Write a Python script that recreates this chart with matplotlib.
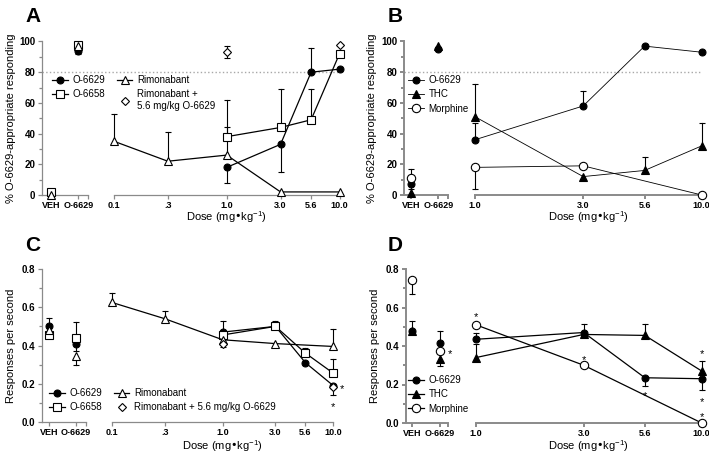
import numpy as np
import matplotlib.pyplot as plt
from matplotlib.ticker import NullLocator

plt.rcParams['font.family'] = ['Liberation Sans', 'DejaVu Sans']
plt.rcParams['mathtext.default'] = 'regular'

ctrl_labels = ['VEH', 'O-6629']
xlabel = 'Dose (mg\u2022kg$^{-1}$)'

# ---------------- Panel A: % O-6629-appropriate responding ----------------
# error values = where the (one-sided) error bar cap sits, None = no bar
a_doses = [0.1, 0.3, 1.0, 3.0, 5.6, 10.0]
a_dose_labels = ['0.1', '.3', '1.0', '3.0', '5.6', '10.0']

a_o6629_ctrl = [1, 94]
a_o6629_ctrl_err = [None, 92]
a_o6629_x = [1.0, 3.0, 5.6, 10.0]
a_o6629 = [18, 33, 80, 82]
a_o6629_err = [8, 15, 96, None]

a_o6658_ctrl = [2, 98]
a_o6658_ctrl_err = [None, None]
a_o6658_x = [1.0, 3.0, 5.6, 10.0]
a_o6658 = [38, 44, 49, 92]
a_o6658_err = [62, 69, 69, None]

a_rim_ctrl = [0, 97]
a_rim_ctrl_err = [None, None]
a_rim_x = [0.1, 0.3, 1.0, 3.0, 10.0]
a_rim = [35, 22, 26, 2, 2]
a_rim_err = [53, 41, 44, None, None]

a_combo_x = [1.0, 10.0]
a_combo = [93, 98]
a_combo_err = [(89, 97), None]

# ---------------- Panel B ----------------
b_doses = [1.0, 3.0, 5.6, 10.0]
b_dose_labels = ['1.0', '3.0', '5.6', '10.0']

b_o6629_ctrl = [7, 95]
b_o6629_ctrl_err = [4, None]
b_o6629_x = [1.0, 3.0, 5.6, 10.0]
b_o6629 = [36, 58, 97, 93]
b_o6629_err = [47, 68, None, None]

b_thc_ctrl = [1, 97]
b_thc_ctrl_err = [None, None]
b_thc_x = [1.0, 3.0, 5.6, 10.0]
b_thc = [51, 12, 16, 32]
b_thc_err = [72, None, 25, 47]

b_mor_ctrl = [11, np.nan]
b_mor_ctrl_err = [17, None]
b_mor_x = [1.0, 3.0, 10.0]
b_mor = [18, 19, 0]
b_mor_err = [4, None, None]

# ---------------- Panel C: responses per second ----------------
c_o6629_ctrl = [0.50, 0.41]
c_o6629_ctrl_err = [None, 0.37]
c_o6629_x = [1.0, 3.0, 5.6, 10.0]
c_o6629 = [0.47, 0.50, 0.31, 0.19]
c_o6629_err = [None, None, None, 0.14]

c_o6658_ctrl = [0.455, 0.44]
c_o6658_ctrl_err = [0.545, 0.525]
c_o6658_x = [1.0, 3.0, 5.6, 10.0]
c_o6658 = [0.455, 0.50, 0.36, 0.255]
c_o6658_err = [0.53, 0.53, 0.385, 0.33]

c_rim_ctrl = [0.48, 0.345]
c_rim_ctrl_err = [None, 0.30]
c_rim_x = [0.1, 0.3, 1.0, 3.0, 10.0]
c_rim = [0.625, 0.54, 0.43, 0.41, 0.395]
c_rim_err = [0.675, 0.58, None, None, 0.485]

c_combo_x = [1.0, 10.0]
c_combo = [0.41, 0.185]
c_combo_err = [0.39, None]

c_side_star = (10.0, 0.185)
c_stars_x = [10.0]
c_stars_y = [0.09]

# ---------------- Panel D ----------------
d_o6629_ctrl = [0.48, 0.415]
d_o6629_ctrl_err = [0.53, 0.48]
d_o6629_x = [1.0, 3.0, 5.6, 10.0]
d_o6629 = [0.435, 0.47, 0.235, 0.23]
d_o6629_err = [0.465, 0.515, 0.19, 0.17]

d_thc_ctrl = [0.48, 0.335]
d_thc_ctrl_err = [None, 0.295]
d_thc_x = [1.0, 3.0, 5.6, 10.0]
d_thc = [0.34, 0.46, 0.455, 0.27]
d_thc_err = [0.41, 0.445, 0.515, 0.32]

d_mor_ctrl = [0.745, 0.375]
d_mor_ctrl_err = [0.67, None]
d_mor_x = [1.0, 3.0, 10.0]
d_mor = [0.51, 0.30, 0.0]
d_mor_err = [None, None, None]

d_side_star = (1, 0.375)
d_stars_x = [1.0, 3.0, 5.6, 10.0, 10.0, 10.0]
d_stars_y = [0.565, 0.34, 0.155, 0.37, 0.125, 0.045]

W, H = 709, 453
GREY = '#8a8a8a'
fig = plt.figure(figsize=(W / 100, H / 100), dpi=100)

FILLED_CIRCLE = dict(marker='o', ms=5, mfc='k')
OPEN_CIRCLE = dict(marker='o', ms=6, mfc='w')
OPEN_SQUARE = dict(marker='s', ms=6, mfc='w')
OPEN_TRI = dict(marker='^', ms=6, mfc='w')
FILLED_TRI = dict(marker='^', ms=5.5, mfc='k')
OPEN_DIAMOND = dict(marker='D', ms=4.5, mfc='w')


def px_axes(x0, x1, y0, y1):
    return fig.add_axes([x0 / W, 1 - y1 / H, (x1 - x0) / W, (y1 - y0) / H])


def make_panel(lx, ctrl_px, rx, py, ylim, yticks, ylabels, yminor, doses, dose_labels,
               ylabel, ylabel_px, xlabel_px, lw_spine):
    ax_l = px_axes(lx[0], lx[1], py[0], py[1])
    ax_r = px_axes(rx[0], rx[1], py[0], py[1])
    unit = ctrl_px[1] - ctrl_px[0]
    ax_l.set_xlim((lx[0] - ctrl_px[0]) / unit, 1 + (lx[1] - ctrl_px[1]) / unit)
    for ax in (ax_l, ax_r):
        ax.set_ylim(*ylim)
        ax.patch.set_alpha(0)
        for s in ('top', 'right'):
            ax.spines[s].set_visible(False)
        for s in ('left', 'bottom'):
            ax.spines[s].set_color(GREY)
            ax.spines[s].set_linewidth(lw_spine)
        ax.tick_params(which='both', color=GREY, width=lw_spine, pad=2)
        ax.tick_params(axis='x', labelsize=6.5, pad=1.5)
        ax.tick_params(axis='y', labelsize=7)
        ax.tick_params(which='major', length=3)
        ax.tick_params(which='minor', length=2)
    ax_r.spines['left'].set_visible(False)
    ax_r.tick_params(axis='y', left=False, labelleft=False)
    ax_l.set_xticks([0, 1], ctrl_labels, fontweight='bold')
    ax_l.set_xticks([ax_l.get_xlim()[1]], minor=True)
    ax_l.tick_params(axis='x', which='minor', length=3)
    ax_l.set_yticks(yticks, ylabels, fontweight='bold')
    ax_l.set_yticks(yminor, minor=True)
    ax_r.set_xscale('log')
    ax_r.set_xlim(doses[0], doses[-1])
    ax_r.set_xticks(doses, dose_labels, fontweight='bold')
    ax_r.xaxis.set_minor_locator(NullLocator())
    ax_l.set_ylabel(ylabel, fontsize=8)
    ax_l.yaxis.set_label_coords((ylabel_px - lx[0]) / (lx[1] - lx[0]), 0.5)
    ax_r.set_xlabel(xlabel, fontsize=8, va='baseline')
    ax_r.xaxis.set_label_coords(0.5, (py[1] - xlabel_px) / (py[1] - py[0]))
    return ax_l, ax_r


def bars(ax, xs, ys, ends):
    for xv, yv, e in zip(xs, ys, ends):
        if e is None:
            continue
        for end in np.atleast_1d(e):
            ax.plot([xv, xv], [yv, end], color='k', lw=0.8, zorder=2, clip_on=False)
            ax.plot(xv, end, marker='_', ms=5, mew=0.8, color='k', zorder=2, clip_on=False)


def draw_series(ax_l, ax_r, ctrl, ctrl_err, x, vals, err, style, label, line=True, lw=0.9):
    kw = dict(color='k', mec='k', mew=0.8, clip_on=False, zorder=3, **style)
    ax_l.plot([0, 1], ctrl, ls='none', **kw)
    h, = ax_r.plot(x, vals, ls='-' if line else 'none', lw=lw, label=label, **kw)
    bars(ax_l, [0, 1], ctrl, ctrl_err)
    bars(ax_r, x, vals, err)
    return h


def star(ax, x, y, dx=0, dy=0):
    ax.annotate('*', xy=(x, y), xytext=(dx, dy - 2), textcoords='offset points',
                ha='center', va='center', fontsize=8)


def legend(handles, x_px, y_px, ncol):
    fig.legend(handles=handles, loc='upper left', bbox_to_anchor=(x_px / W, 1 - y_px / H),
               ncol=ncol, frameon=False, fontsize=7, borderpad=0, borderaxespad=0,
               handlelength=1.6, handletextpad=0.5, labelspacing=0.45, columnspacing=1.2)


pct_ticks = [0, 20, 40, 60, 80, 100]
pct_labels = [str(v) for v in pct_ticks]
pct_minor = [10, 30, 50, 70, 90]
rate_ticks = [0.0, 0.2, 0.4, 0.6, 0.8]
rate_labels = ['%.1f' % v for v in rate_ticks]
rate_minor = [0.1, 0.3, 0.5, 0.7]

# ---- A ----
axl, axr = make_panel((42.3, 87.7), (50.7, 78.3), (114, 339.5), (41.5, 195), (0, 100),
                      pct_ticks, pct_labels, pct_minor, a_doses, a_dose_labels,
                      '% O-6629-appropriate responding', 16, 221, 0.9)
axl.axhline(80, xmax=(339.5 - 42.3) / (87.7 - 42.3), color='#a8a8a8', ls=':', lw=1, clip_on=False, zorder=1)
h1 = draw_series(axl, axr, a_o6629_ctrl, a_o6629_ctrl_err, a_o6629_x, a_o6629, a_o6629_err, FILLED_CIRCLE, 'O-6629')
h2 = draw_series(axl, axr, a_o6658_ctrl, a_o6658_ctrl_err, a_o6658_x, a_o6658, a_o6658_err, OPEN_SQUARE, 'O-6658')
h3 = draw_series(axl, axr, a_rim_ctrl, a_rim_ctrl_err, a_rim_x, a_rim, a_rim_err, OPEN_TRI, 'Rimonabant')
h4, = axr.plot(a_combo_x, a_combo, ls='none', color='k', mec='k', mew=0.8, clip_on=False, zorder=3,
               label='Rimonabant +\n5.6 mg/kg O-6629', **OPEN_DIAMOND)
bars(axr, a_combo_x, a_combo, a_combo_err)
legend([h1, h2, h3, h4], 52, 75, 2)

# ---- B ----
axl, axr = make_panel((404.3, 448.3), (411, 438.3), (475, 701.7), (41.5, 195), (0, 100),
                      pct_ticks, pct_labels, pct_minor, b_doses, b_dose_labels,
                      '% O-6629-appropriate responding', 377, 221, 1.4)
axl.axhline(80, xmax=(701.7 - 404.3) / (448.3 - 404.3), color='#a8a8a8', ls=':', lw=1, clip_on=False, zorder=1)
h1 = draw_series(axl, axr, b_o6629_ctrl, b_o6629_ctrl_err, b_o6629_x, b_o6629, b_o6629_err, FILLED_CIRCLE, 'O-6629', lw=0.6)
h2 = draw_series(axl, axr, b_thc_ctrl, b_thc_ctrl_err, b_thc_x, b_thc, b_thc_err, FILLED_TRI, 'THC', lw=0.6)
h3 = draw_series(axl, axr, b_mor_ctrl, b_mor_ctrl_err, b_mor_x, b_mor, b_mor_err, OPEN_CIRCLE, 'Morphine', lw=0.6)
legend([h1, h2, h3], 408, 75, 1)

# ---- C ----
axl, axr = make_panel((41.7, 86), (49, 76), (112, 333.3), (269, 422), (0, 0.8),
                      rate_ticks, rate_labels, rate_minor, a_doses, a_dose_labels,
                      'Responses per second', 16, 449.5, 0.9)
h1 = draw_series(axl, axr, c_o6629_ctrl, c_o6629_ctrl_err, c_o6629_x, c_o6629, c_o6629_err, FILLED_CIRCLE, 'O-6629')
h2 = draw_series(axl, axr, c_o6658_ctrl, c_o6658_ctrl_err, c_o6658_x, c_o6658, c_o6658_err, OPEN_SQUARE, 'O-6658')
h3 = draw_series(axl, axr, c_rim_ctrl, c_rim_ctrl_err, c_rim_x, c_rim, c_rim_err, OPEN_TRI, 'Rimonabant')
h4, = axr.plot(c_combo_x, c_combo, ls='none', color='k', mec='k', mew=0.8, clip_on=False, zorder=3,
               label='Rimonabant + 5.6 mg/kg O-6629', **OPEN_DIAMOND)
bars(axr, c_combo_x, c_combo, c_combo_err)
star(axr, c_side_star[0], c_side_star[1], dx=6)
for xv, yv in zip(c_stars_x, c_stars_y):
    star(axr, xv, yv)
legend([h1, h2, h3, h4], 49, 388, 2)

# ---- D ----
axl, axr = make_panel((405.7, 448), (412, 440), (476, 701.7), (269, 423), (0, 0.8),
                      rate_ticks, rate_labels, rate_minor, b_doses, b_dose_labels,
                      'Responses per second', 380, 450.5, 1.4)
h1 = draw_series(axl, axr, d_o6629_ctrl, d_o6629_ctrl_err, d_o6629_x, d_o6629, d_o6629_err, FILLED_CIRCLE, 'O-6629')
h2 = draw_series(axl, axr, d_thc_ctrl, d_thc_ctrl_err, d_thc_x, d_thc, d_thc_err, FILLED_TRI, 'THC')
h3 = draw_series(axl, axr, d_mor_ctrl, d_mor_ctrl_err, d_mor_x, d_mor, d_mor_err, OPEN_CIRCLE, 'Morphine')
star(axl, d_side_star[0], d_side_star[1], dx=7)
for xv, yv in zip(d_stars_x, d_stars_y):
    star(axr, xv, yv)
legend([h1, h2, h3], 408, 375, 1)

# panel letters
for letter, x, y in [('A', 25, 7), ('B', 388, 7), ('C', 25, 236), ('D', 388, 236)]:
    fig.text(x / W, 1 - y / H, letter, fontsize=15, fontweight='bold', va='top', ha='left')

fig.savefig('out.png', dpi=100)
